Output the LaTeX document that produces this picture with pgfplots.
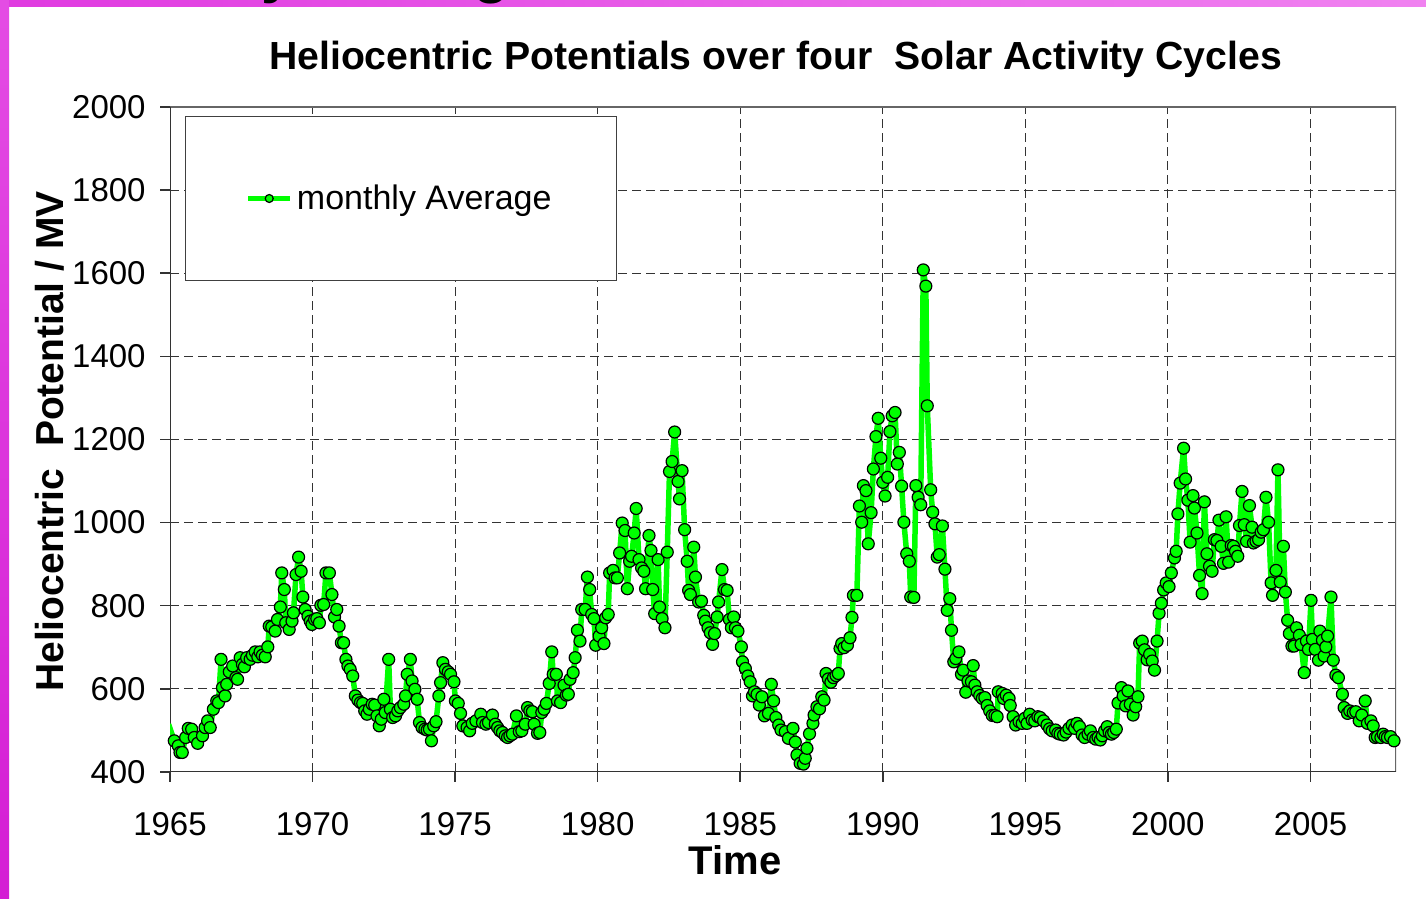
\documentclass[border=0pt]{standalone}
\usepackage{pgfplots}
\pgfplotsset{compat=1.18}
\usepackage{fontspec}
\setmainfont{Liberation Sans}
\definecolor{lgreen}{RGB}{0,255,0}
\definecolor{magL}{RGB}{224,58,224}
\definecolor{magR}{RGB}{240,130,240}
\definecolor{magT}{RGB}{228,76,228}
\definecolor{magB}{RGB}{212,30,212}
\begin{document}
\begin{tikzpicture}[x=1pt,y=1pt]
\useasboundingbox (0,0) rectangle (713,449.5);
\fill[white] (0,0) rectangle (713,449.5);
\shade[left color=magL, right color=magR] (0,446) rectangle (713,449.5);
\shade[top color=magT, bottom color=magB] (0,0) rectangle (4.5,449.5);
\begin{scope}
\clip (0,0) rectangle (713,449.5);
\node[anchor=base west, inner sep=0pt, font=\fontsize{29.7}{32}\selectfont\bfseries] at (33,453.5) {Monthly Average};
\end{scope}
\begin{axis}[
  at={(85pt,63.5pt)}, anchor=south west,
  width=613pt, height=332.5pt, scale only axis,
  xmin=1965, xmax=2008, ymin=400, ymax=2000,
  xtick={1965,1970,...,2005}, ytick={400,600,...,2000},
  /pgf/number format/set thousands separator={},
  /pgf/number format/assume math mode=true,
  tick label style={font=\fontsize{16.5}{20}\selectfont},
  xticklabel style={anchor=base, inner sep=0pt, yshift=-27pt},
  yticklabel style={anchor=east, inner sep=0pt, xshift=-7pt},
  tick pos=left, tick align=outside, major tick length=5pt,
  tick style={black!80, line width=0.75pt},
  axis line style={draw=none},
  grid=major,
  major grid style={dash pattern=on 4.5pt off 2.5pt, black!80, line width=0.5pt},
  title={Heliocentric Potentials over four\ \ Solar Activity Cycles},
  title style={font=\fontsize{19.6}{24}\selectfont\bfseries, at={(axis description cs:0.494,1)}, anchor=base, yshift=12.5pt},
  xlabel={Time},
  xlabel style={font=\fontsize{20}{24}\selectfont\bfseries, at={(axis description cs:0.461,0)}, anchor=base, yshift=-51.5pt},
  ylabel={Heliocentric\ \ Potential / MV},
  ylabel style={font=\fontsize{19.5}{24}\selectfont\bfseries, at={(axis description cs:-0.0979,0.497)}, anchor=center},
  legend style={draw=none, fill=none, at={(axis description cs:0.188,0.8624)}, anchor=center, font=\fontsize{17}{20}\selectfont},
  legend image code/.code={\draw[mark repeat=2,mark phase=2,#1,mark size=2pt] plot coordinates {(0pt,0pt) (10.5pt,0pt) (21pt,0pt)};},
]
\draw[black!60, line width=0.75pt] (rel axis cs:0,1) -- (rel axis cs:1,1) -- (rel axis cs:1,0);
\draw[black!80, line width=1pt] (rel axis cs:0,1) -- (rel axis cs:0,0) -- (rel axis cs:1,0);
\draw[black!75, line width=0.5pt, fill=white] (rel axis cs:0.01223,0.7398) rectangle (rel axis cs:0.3638,0.985);
\addplot[color=lgreen, line width=2.75pt, line join=round, mark=*, mark size=3pt,
  mark options={fill=lgreen, draw=black, line width=0.6pt}] coordinates {
(1964.95,515) (1965.15,475) (1965.29,463) (1965.35,447) (1965.43,447) (1965.55,483) (1965.64,505) (1965.76,503) (1965.85,483) (1965.97,469)
(1966.14,487) (1966.23,507) (1966.32,523) (1966.41,507) (1966.52,551) (1966.64,571) (1966.70,567) (1966.79,671) (1966.84,603) (1966.93,583) (1966.99,611)
(1967.08,641) (1967.20,655) (1967.31,627) (1967.37,623) (1967.46,675) (1967.54,659) (1967.61,653) (1967.69,675) (1967.81,671) (1967.89,681) (1967.99,689)
(1968.08,677) (1968.16,689) (1968.24,681) (1968.34,677) (1968.43,701) (1968.48,751) (1968.57,749) (1968.69,739) (1968.77,767) (1968.87,797) (1968.92,879)
(1969.01,839) (1969.06,759) (1969.18,743) (1969.28,763) (1969.33,783) (1969.42,875) (1969.51,917) (1969.60,883) (1969.66,821) (1969.74,791) (1969.84,775) (1969.92,763) (1969.98,755)
(1970.07,767) (1970.15,769) (1970.24,759) (1970.29,801) (1970.39,803) (1970.47,879) (1970.59,879) (1970.68,827) (1970.77,773) (1970.85,791) (1970.93,751)
(1971.01,711) (1971.09,711) (1971.17,671) (1971.24,655) (1971.32,647) (1971.41,631) (1971.50,583) (1971.59,573) (1971.68,567) (1971.76,565) (1971.83,547) (1971.91,539) (1971.99,551)
(1972.09,563) (1972.18,561) (1972.26,535) (1972.34,511) (1972.41,527) (1972.50,575) (1972.55,543) (1972.67,671) (1972.73,551) (1972.81,531) (1972.91,535) (1972.99,547)
(1973.08,555) (1973.20,563) (1973.26,583) (1973.32,635) (1973.43,671) (1973.49,619) (1973.59,599) (1973.67,575) (1973.75,519) (1973.84,507) (1973.94,503)
(1974.02,501) (1974.10,503) (1974.17,475) (1974.25,511) (1974.33,521) (1974.43,583) (1974.49,615) (1974.57,663) (1974.66,647) (1974.76,641) (1974.84,635) (1974.96,617)
(1975.01,571) (1975.11,565) (1975.19,541) (1975.27,511) (1975.42,507) (1975.51,499) (1975.60,517) (1975.73,523) (1975.90,539) (1975.96,519)
(1976.08,515) (1976.17,519) (1976.31,537) (1976.41,515) (1976.49,507) (1976.57,499) (1976.66,495) (1976.76,487) (1976.84,483) (1976.92,487)
(1977.01,491) (1977.15,535) (1977.25,497) (1977.34,499) (1977.46,515) (1977.54,555) (1977.62,547) (1977.71,545) (1977.77,515) (1977.89,493) (1977.97,495)
(1978.04,543) (1978.12,551) (1978.20,565) (1978.30,613) (1978.39,689) (1978.44,635) (1978.55,635) (1978.59,571) (1978.70,567) (1978.82,609) (1978.90,585) (1978.97,587)
(1979.03,623) (1979.14,639) (1979.21,675) (1979.29,741) (1979.38,715) (1979.44,791) (1979.56,791) (1979.64,869) (1979.72,839) (1979.79,779) (1979.87,769) (1979.93,705)
(1980.05,727) (1980.14,747) (1980.22,709) (1980.28,771) (1980.37,779) (1980.42,879) (1980.54,885) (1980.61,867) (1980.69,867) (1980.77,927) (1980.86,999) (1980.96,981)
(1981.04,841) (1981.12,907) (1981.19,919) (1981.28,975) (1981.35,1034) (1981.45,911) (1981.54,891) (1981.62,883) (1981.68,841) (1981.80,969) (1981.87,933) (1981.93,839)
(1982.00,781) (1982.12,911) (1982.17,797) (1982.26,769) (1982.36,747) (1982.44,929) (1982.52,1123) (1982.61,1147) (1982.70,1218) (1982.82,1099) (1982.87,1057) (1982.96,1125)
(1983.05,983) (1983.14,907) (1983.19,837) (1983.25,827) (1983.37,941) (1983.43,869) (1983.54,809) (1983.64,811) (1983.72,777) (1983.78,763) (1983.87,747) (1983.95,735)
(1984.03,707) (1984.10,733) (1984.19,773) (1984.24,809) (1984.36,887) (1984.45,839) (1984.54,837) (1984.62,767) (1984.69,747) (1984.77,773) (1984.83,747) (1984.92,739)
(1985.04,701) (1985.08,665) (1985.18,649) (1985.27,631) (1985.35,617) (1985.43,583) (1985.50,593) (1985.59,587) (1985.67,561) (1985.76,581) (1985.85,535) (1985.99,541)
(1986.09,611) (1986.17,571) (1986.25,531) (1986.35,513) (1986.43,501) (1986.58,497) (1986.69,481) (1986.85,505) (1986.93,472) (1986.99,441)
(1987.10,421) (1987.22,419) (1987.28,433) (1987.34,457) (1987.43,492) (1987.55,517) (1987.59,537) (1987.69,557) (1987.78,552) (1987.86,581) (1987.94,573)
(1988.01,637) (1988.09,624) (1988.18,616) (1988.27,627) (1988.36,632) (1988.44,637) (1988.50,697) (1988.56,709) (1988.64,699) (1988.76,705) (1988.85,723) (1988.92,772) (1988.97,825)
(1989.09,825) (1989.18,1040) (1989.26,1001) (1989.32,1089) (1989.41,1077) (1989.49,949) (1989.59,1024) (1989.67,1129) (1989.76,1207) (1989.84,1251) (1989.93,1155)
(1990.00,1097) (1990.08,1064) (1990.17,1109) (1990.25,1219) (1990.33,1257) (1990.43,1265) (1990.51,1141) (1990.58,1169) (1990.66,1088) (1990.74,1001) (1990.84,925) (1990.93,907) (1990.98,821)
(1991.09,820) (1991.16,1089) (1991.24,1061) (1991.33,1043) (1991.42,1608) (1991.51,1569) (1991.56,1281) (1991.68,1079) (1991.75,1025) (1991.83,997) (1991.91,917) (1991.98,923)
(1992.09,992) (1992.18,888) (1992.26,789) (1992.35,817) (1992.41,741) (1992.49,665) (1992.56,673) (1992.67,689) (1992.76,635) (1992.82,645) (1992.91,592) (1992.99,619)
(1993.11,617) (1993.17,656) (1993.23,609) (1993.31,593) (1993.40,584) (1993.49,577) (1993.58,579) (1993.66,560) (1993.75,547) (1993.84,536) (1993.93,536)
(1994.01,533) (1994.05,593) (1994.19,589) (1994.24,577) (1994.33,585) (1994.43,577) (1994.47,560) (1994.57,533) (1994.66,513) (1994.78,521) (1994.89,517) (1994.98,529)
(1995.06,517) (1995.15,539) (1995.24,525) (1995.33,523) (1995.44,533) (1995.52,531) (1995.64,523) (1995.76,513) (1995.85,504) (1995.94,499)
(1996.06,501) (1996.14,493) (1996.22,491) (1996.34,489) (1996.43,496) (1996.53,505) (1996.64,513) (1996.73,505) (1996.81,517) (1996.90,509) (1996.99,489)
(1997.08,483) (1997.20,491) (1997.28,499) (1997.38,483) (1997.47,479) (1997.55,483) (1997.63,477) (1997.70,487) (1997.78,499) (1997.87,509) (1997.94,495)
(1998.02,491) (1998.10,495) (1998.19,503) (1998.25,566) (1998.37,603) (1998.43,583) (1998.52,559) (1998.60,595) (1998.68,563) (1998.78,537) (1998.87,557) (1998.95,581)
(1999.01,710) (1999.10,715) (1999.18,694) (1999.27,670) (1999.36,683) (1999.45,667) (1999.53,645) (1999.62,715) (1999.69,782) (1999.77,806) (1999.85,838) (1999.94,855)
(2000.04,846) (2000.12,879) (2000.23,915) (2000.29,931) (2000.35,1021) (2000.43,1095) (2000.55,1179) (2000.62,1105) (2000.70,1054) (2000.78,953) (2000.88,1065) (2000.93,1035)
(2001.02,975) (2001.11,873) (2001.20,829) (2001.28,1050) (2001.37,925) (2001.46,895) (2001.55,883) (2001.63,959) (2001.72,957) (2001.79,1006) (2001.87,943) (2001.95,902)
(2002.04,1014) (2002.13,905) (2002.22,945) (2002.30,943) (2002.37,931) (2002.45,919) (2002.51,993) (2002.60,1075) (2002.68,995) (2002.76,955) (2002.86,1041) (2002.95,989)
(2003.00,951) (2003.09,955) (2003.18,959) (2003.27,977) (2003.35,983) (2003.44,1061) (2003.53,1001) (2003.62,855) (2003.67,825) (2003.79,885) (2003.86,1127) (2003.94,857)
(2004.05,943) (2004.12,833) (2004.20,765) (2004.26,733) (2004.35,703) (2004.43,703) (2004.51,747) (2004.61,729) (2004.67,707) (2004.78,639) (2004.86,715) (2004.93,695)
(2005.02,813) (2005.07,719) (2005.17,695) (2005.28,669) (2005.33,739) (2005.42,717) (2005.48,679) (2005.54,701) (2005.60,727) (2005.72,821) (2005.80,669) (2005.89,633) (2005.98,627)
(2006.12,587) (2006.18,555) (2006.30,541) (2006.38,547) (2006.50,543) (2006.59,545) (2006.71,523) (2006.80,537) (2006.92,571)
(2007.00,517) (2007.12,523) (2007.20,511) (2007.27,483) (2007.35,485) (2007.47,483) (2007.55,491) (2007.62,485) (2007.70,483) (2007.81,485) (2007.93,475)
};
\addlegendentry{monthly Average}
\end{axis}
\end{tikzpicture}
\end{document}
